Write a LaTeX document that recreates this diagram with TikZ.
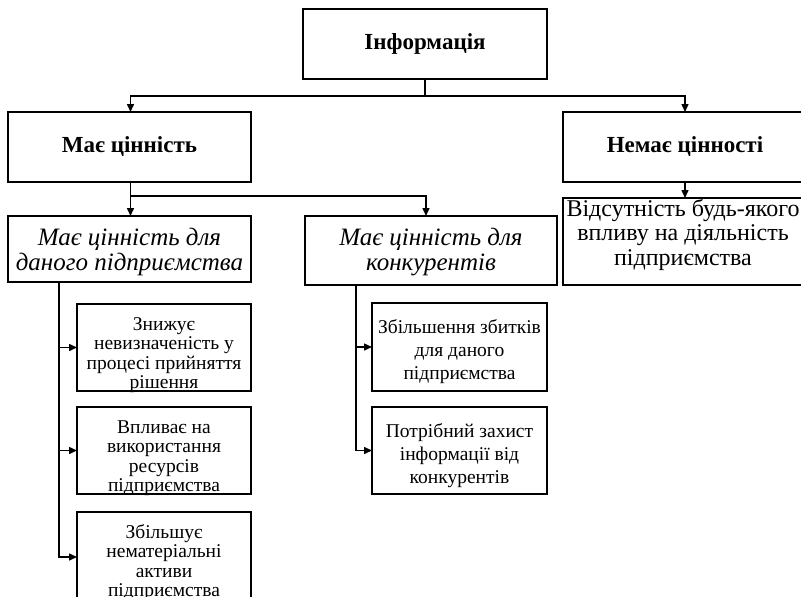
\documentclass[tikz,border=0pt]{standalone}
\usepackage{fontspec}
\setmainfont{Liberation Serif}
\usetikzlibrary{arrows.meta}
\newcommand{\fstrut}{\rule{0pt}{18pt}}
\begin{document}
\begin{tikzpicture}[x=1pt,y=-1pt,
  box/.style={draw, line width=1.8pt, anchor=north west, inner sep=0pt, outer sep=0pt, align=center},
  conn/.style={line width=1.5pt},
  arr/.style={conn, -{Triangle[length=8pt,width=7pt]}},
  btxt/.style={font=\fontsize{23}{25}\selectfont\bfseries},
  itxt/.style={anchor=north, inner sep=0pt, align=center, font=\fontsize{25}{25}\selectfont\itshape},
  etxt/.style={anchor=north, inner sep=0pt, align=center, font=\fontsize{19.5}{19.5}\selectfont},
  ctxt/.style={anchor=north, inner sep=0pt, align=center, font=\fontsize{19.5}{23}\selectfont},
  rtxt/.style={anchor=north, inner sep=0pt, align=center, font=\fontsize{24}{24.5}\selectfont}
]
\useasboundingbox (0,0) rectangle (801,597);
\clip (0,0) rectangle (801,597);

% boxes
\node[box, btxt, minimum width=244pt, minimum height=70pt] (info) at (303,9) {Інформація};
\node[box, btxt, minimum width=243pt, minimum height=70pt] (has) at (8,112) {Має цінність};
\node[box, btxt, minimum width=244pt, minimum height=70pt] (hasnt) at (563,112) {Немає цінності};
\node[box, minimum width=243pt, minimum height=66pt] (hasE) at (8,216) {};
\node[box, minimum width=252pt, minimum height=69pt] (hasC) at (305,216) {};
\node[box, minimum width=244pt, minimum height=87pt] (none) at (563,198) {};
\node[box, minimum width=174pt, minimum height=87pt] (e1) at (77,304) {};
\node[box, minimum width=174pt, minimum height=87pt] (e2) at (77,407) {};
\node[box, minimum width=174pt, minimum height=90pt] (e3) at (77,512) {};
\node[box, minimum width=175pt, minimum height=88pt] (c1) at (372,303) {};
\node[box, minimum width=175pt, minimum height=87pt] (c2) at (372,407) {};

% texts
\node[itxt] (hasEt) at ([yshift=-11pt]hasE.north) {\fstrut Має цінність для\\даного підприємства};
\node[itxt] (hasCt) at ([yshift=-11pt]hasC.north) {\fstrut Має цінність для\\конкурентів};
\node[rtxt] (nonet) at ([xshift=-2pt,yshift=0pt]none.north) {\fstrut Відсутність будь-якого\\впливу на діяльність\\підприємства};
\node[etxt] (e1t) at ([yshift=-8pt]e1.north) {\fstrut Знижує\\невизначеність у\\процесі прийняття\\рішення};
\node[etxt] (e2t) at ([yshift=-8pt]e2.north) {\fstrut Впливає на\\використання\\ресурсів\\підприємства};
\node[etxt] (e3t) at ([yshift=-8pt]e3.north) {\fstrut Збільшує\\нематеріальні\\активи\\підприємства};
\node[ctxt] (c1t) at ([yshift=-12.5pt]c1.north) {\fstrut Збільшення збитків\\для даного\\підприємства};
\node[ctxt] (c2t) at ([yshift=-12.5pt]c2.north) {\fstrut Потрібний захист\\інформації від\\конкурентів};

% connectors
\draw[conn] (info.south) -- ++(0,17) coordinate (j1);
\draw[arr] (j1) -| ([xshift=1pt]has.north);
\draw[arr] (j1) -| (hasnt.north);
\draw[conn] ([xshift=1pt]has.south) -- ++(0,14) coordinate (j2);
\draw[arr] (j2) -- (j2 |- hasE.north);
\draw[arr] (j2) -| ([xshift=-5pt]hasC.north);
\draw[arr] (hasnt.south) -- (none.north);

\draw[arr] ([xshift=51pt]hasE.south west) |- (e1.west);
\draw[arr] ([xshift=51pt]hasE.south west) |- (e2.west);
\draw[arr] ([xshift=51pt]hasE.south west) |- (e3.west);
\draw[arr] ([xshift=51pt]hasC.south west) |- (c1.west);
\draw[arr] ([xshift=51pt]hasC.south west) |- (c2.west);
\end{tikzpicture}
\end{document}
